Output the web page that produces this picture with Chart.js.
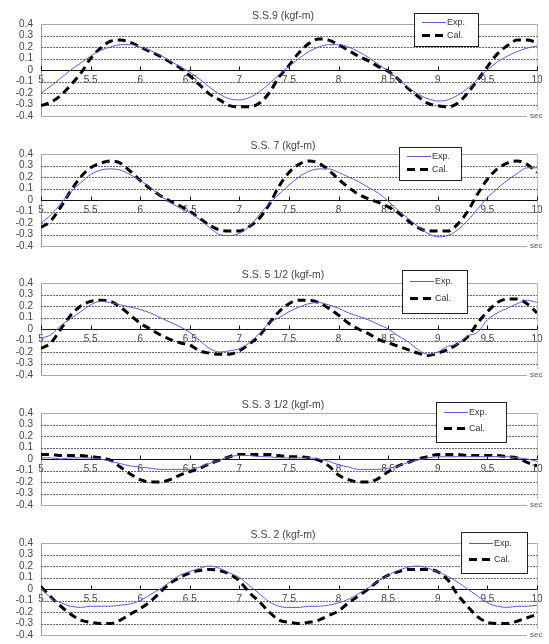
<!DOCTYPE html>
<html>
<head>
<meta charset="utf-8">
<script src="https://cdn.jsdelivr.net/npm/chart.js@4.4.0/dist/chart.umd.min.js"></script>
<style>
html, body { margin: 0; padding: 0; background: #fff; overflow: hidden; }
#wrap { position: relative; width: 549px; height: 644px; }
.panel { position: absolute; left: 0; width: 549px; height: 130px; }
</style>
</head>
<body>
<div id="wrap"></div>
<script>
const times = [5.0, 5.1, 5.2, 5.3, 5.4, 5.5, 5.6, 5.7, 5.8, 5.9,
               6.0, 6.1, 6.2, 6.3, 6.4, 6.5, 6.6, 6.7, 6.8, 6.9,
               7.0, 7.1, 7.2, 7.3, 7.4, 7.5, 7.6, 7.7, 7.8, 7.9,
               8.0, 8.1, 8.2, 8.3, 8.4, 8.5, 8.6, 8.7, 8.8, 8.9,
               9.0, 9.1, 9.2, 9.3, 9.4, 9.5, 9.6, 9.7, 9.8, 9.9, 10.0];

const titles = ['S.S.9 (kgf-m)', 'S.S. 7 (kgf-m)', 'S.S. 5 1/2 (kgf-m)', 'S.S. 3 1/2 (kgf-m)', 'S.S. 2 (kgf-m)'];
const seriesNames = ['Exp.', 'Cal.'];

const xTicks = [5, 5.5, 6, 6.5, 7, 7.5, 8, 8.5, 9, 9.5, 10];
const yTicks = [-0.4, -0.3, -0.2, -0.1, 0, 0.1, 0.2, 0.3, 0.4];

// S.S.9
const exp9 = [-0.20, -0.14, -0.07, 0.00, 0.06, 0.12, 0.17, 0.20, 0.22, 0.22,
              0.20, 0.17, 0.13, 0.08, 0.03, -0.02, -0.08, -0.15, -0.21, -0.25,
              -0.26, -0.24, -0.19, -0.12, -0.04, 0.03, 0.10, 0.16, 0.20, 0.22,
              0.22, 0.20, 0.16, 0.11, 0.05, -0.01, -0.08, -0.15, -0.21, -0.25,
              -0.27, -0.26, -0.22, -0.16, -0.08, 0.00, 0.07, 0.12, 0.16, 0.19, 0.21];
const cal9 = [-0.31, -0.28, -0.22, -0.13, -0.03, 0.10, 0.19, 0.25, 0.26, 0.24,
              0.20, 0.16, 0.12, 0.07, 0.02, -0.05, -0.13, -0.21, -0.26, -0.31,
              -0.32, -0.32, -0.29, -0.20, -0.06, 0.04, 0.15, 0.23, 0.27, 0.26,
              0.22, 0.17, 0.12, 0.08, 0.03, -0.01, -0.08, -0.16, -0.23, -0.29,
              -0.31, -0.32, -0.29, -0.20, -0.09, 0.03, 0.14, 0.21, 0.26, 0.26, 0.24];

// S.S. 7
const exp7 = [-0.20, -0.13, -0.03, 0.07, 0.15, 0.22, 0.26, 0.27, 0.26, 0.22,
              0.17, 0.11, 0.04, -0.02, -0.07, -0.11, -0.17, -0.24, -0.30, -0.31,
              -0.29, -0.23, -0.13, -0.03, 0.05, 0.13, 0.20, 0.25, 0.27, 0.27,
              0.24, 0.20, 0.16, 0.11, 0.06, -0.01, -0.09, -0.16, -0.23, -0.29,
              -0.32, -0.31, -0.26, -0.18, -0.08, 0.02, 0.10, 0.17, 0.23, 0.28, 0.28];
const cal7 = [-0.24, -0.18, -0.06, 0.08, 0.20, 0.28, 0.32, 0.34, 0.32, 0.25,
              0.17, 0.10, 0.04, -0.01, -0.05, -0.10, -0.16, -0.22, -0.26, -0.27,
              -0.27, -0.23, -0.16, -0.04, 0.12, 0.24, 0.31, 0.34, 0.32, 0.26,
              0.18, 0.11, 0.05, 0.01, -0.02, -0.06, -0.11, -0.18, -0.24, -0.27,
              -0.27, -0.27, -0.21, -0.10, 0.05, 0.18, 0.27, 0.32, 0.34, 0.31, 0.24];

// S.S. 5 1/2
const exp5 = [-0.08, -0.05, 0.03, 0.09, 0.15, 0.21, 0.24, 0.23, 0.21, 0.19,
              0.17, 0.14, 0.10, 0.06, 0.02, -0.03, -0.10, -0.17, -0.20, -0.19,
              -0.17, -0.12, -0.04, 0.05, 0.10, 0.15, 0.19, 0.22, 0.23, 0.21,
              0.18, 0.14, 0.11, 0.08, 0.04, 0.00, -0.06, -0.11, -0.18, -0.22,
              -0.20, -0.15, -0.13, -0.06, -0.03, 0.08, 0.14, 0.18, 0.22, 0.25, 0.23];
const cal5 = [-0.17, -0.12, 0.00, 0.12, 0.20, 0.24, 0.25, 0.24, 0.19, 0.12,
              0.05, 0.00, -0.05, -0.09, -0.12, -0.14, -0.19, -0.21, -0.22, -0.22,
              -0.19, -0.13, -0.06, 0.05, 0.15, 0.22, 0.25, 0.25, 0.23, 0.18,
              0.12, 0.05, 0.00, -0.04, -0.09, -0.12, -0.15, -0.18, -0.21, -0.23,
              -0.21, -0.18, -0.13, -0.07, 0.05, 0.15, 0.23, 0.26, 0.26, 0.22, 0.14];

// S.S. 3 1/2
const exp3 = [0.01, 0.01, 0.00, 0.01, 0.01, 0.01, 0.00, -0.02, -0.04, -0.06,
              -0.07, -0.08, -0.09, -0.09, -0.09, -0.09, -0.07, -0.04, -0.01, 0.02,
              0.03, 0.03, 0.02, 0.02, 0.01, 0.01, 0.01, 0.01, 0.00, -0.02,
              -0.05, -0.07, -0.09, -0.09, -0.09, -0.08, -0.06, -0.03, -0.01, 0.01,
              0.02, 0.02, 0.02, 0.02, 0.02, 0.02, 0.02, 0.02, 0.01, 0.00, -0.02];
const cal3 = [0.04, 0.04, 0.03, 0.03, 0.03, 0.02, 0.01, -0.01, -0.07, -0.13,
              -0.18, -0.20, -0.20, -0.18, -0.14, -0.11, -0.08, -0.04, -0.01, 0.02,
              0.04, 0.04, 0.04, 0.04, 0.03, 0.02, 0.02, 0.01, -0.01, -0.06,
              -0.14, -0.18, -0.20, -0.20, -0.17, -0.11, -0.06, -0.03, 0.00, 0.02,
              0.04, 0.04, 0.04, 0.03, 0.03, 0.03, 0.03, 0.02, 0.01, -0.03, -0.06];

// S.S. 2
const exp2 = [0.01, -0.08, -0.12, -0.15, -0.16, -0.15, -0.15, -0.15, -0.14, -0.13,
              -0.10, -0.05, 0.00, 0.06, 0.12, 0.15, 0.18, 0.20, 0.18, 0.14,
              0.10, 0.03, -0.04, -0.11, -0.15, -0.16, -0.16, -0.15, -0.15, -0.14,
              -0.12, -0.09, -0.04, 0.01, 0.07, 0.12, 0.16, 0.19, 0.20, 0.18,
              0.15, 0.11, 0.06, 0.00, -0.06, -0.12, -0.15, -0.16, -0.15, -0.15, -0.14];
const cal2 = [0.02, -0.07, -0.15, -0.22, -0.27, -0.29, -0.30, -0.30, -0.27, -0.22,
              -0.17, -0.11, -0.03, 0.05, 0.10, 0.14, 0.16, 0.17, 0.16, 0.13,
              0.07, -0.03, -0.11, -0.20, -0.27, -0.29, -0.30, -0.29, -0.27, -0.23,
              -0.19, -0.12, -0.06, 0.00, 0.07, 0.12, 0.15, 0.17, 0.17, 0.17,
              0.15, 0.08, -0.05, -0.15, -0.24, -0.29, -0.30, -0.30, -0.28, -0.25, -0.22];

const expSeries = [exp9, exp7, exp5, exp3, exp2];
const calSeries = [cal9, cal7, cal5, cal3, cal2];

// legend box corners inside each canvas: x1, y1, x2, y2
const legendBoxes = [
  [414, 13, 478, 46],
  [399, 17, 461, 50],
  [402, 11, 467, 54],
  [436, 13, 506, 53],
  [461, 13, 527, 54]
];

const FONT = '"Liberation Sans", Arial, sans-serif';
Chart.defaults.font.family = FONT;
Chart.defaults.font.size = 10;
Chart.defaults.color = '#444';

const decor = {
  id: 'decor',
  beforeDatasetsDraw(chart, args, opts) {
    const { ctx, chartArea: a, scales: { x, y } } = chart;
    ctx.save();
    ctx.lineWidth = 1;
    yTicks.forEach(v => {
      const py = Math.round(y.getPixelForValue(v)) + 0.5;
      let right = a.right;
      if (v === 0) {
        ctx.strokeStyle = '#111';
        ctx.setLineDash([]);
      } else if (Math.abs(v) > 0.35) {
        ctx.strokeStyle = '#aaa';
        ctx.setLineDash([]);
        if (v < 0) right = a.right - 10;
      } else {
        ctx.strokeStyle = '#666';
        ctx.setLineDash([2, 1]);
      }
      ctx.beginPath();
      ctx.moveTo(a.left, py);
      ctx.lineTo(right, py);
      ctx.stroke();
    });
    ctx.setLineDash([]);
    // right border of the plot
    ctx.strokeStyle = '#bbb';
    const rx = Math.round(a.right) + 0.5;
    ctx.beginPath();
    ctx.moveTo(rx, a.top);
    ctx.lineTo(rx, a.bottom - 6);
    ctx.stroke();
    // small tick marks above the zero axis
    const zy = Math.round(y.getPixelForValue(0)) + 0.5;
    ctx.strokeStyle = '#111';
    x.ticks.forEach(t => {
      const px = Math.round(x.getPixelForValue(t.value)) + 0.5;
      ctx.beginPath();
      ctx.moveTo(px, zy - 4);
      ctx.lineTo(px, zy);
      ctx.stroke();
    });
    ctx.restore();
  },
  afterDraw(chart, args, opts) {
    const { ctx, chartArea: a } = chart;
    ctx.save();
    // title
    ctx.font = '10.5px ' + FONT;
    ctx.fillStyle = '#444';
    ctx.textAlign = 'center';
    ctx.textBaseline = 'middle';
    ctx.fillText(opts.title, (a.left + a.right) / 2 - 6, 16);

    // legend
    const [x1, y1, x2, y2] = opts.box;
    ctx.fillStyle = '#fff';
    ctx.fillRect(x1, y1, x2 - x1, y2 - y1);
    ctx.strokeStyle = '#222';
    ctx.lineWidth = 1;
    ctx.strokeRect(x1 + 0.5, y1 + 0.5, x2 - x1, y2 - y1);
    const h = y2 - y1;
    const rows = [y1 + h * 0.26, y1 + h * 0.66];
    chart.data.datasets.forEach((ds, i) => {
      const ry = Math.round(rows[i]) + 0.5;
      ctx.strokeStyle = ds.borderColor;
      ctx.lineWidth = ds.borderWidth;
      ctx.setLineDash(ds.borderDash || []);
      ctx.beginPath();
      ctx.moveTo(x1 + 8, ry);
      ctx.lineTo(x1 + 32, ry);
      ctx.stroke();
      ctx.setLineDash([]);
      ctx.font = '9px ' + FONT;
      ctx.fillStyle = '#333';
      ctx.textAlign = 'left';
      ctx.fillText(ds.label, x1 + 33, ry);
    });

    // unit label at the right end of the bottom line
    ctx.font = '8px ' + FONT;
    ctx.fillStyle = '#555';
    ctx.textAlign = 'left';
    ctx.fillText('sec', a.right - 7, a.bottom);
    ctx.restore();
  }
};

const wrap = document.getElementById('wrap');

titles.forEach((title, i) => {
  const div = document.createElement('div');
  div.className = 'panel';
  div.style.top = Math.round(i * 129.7) + 'px';
  const canvas = document.createElement('canvas');
  canvas.width = 549;
  canvas.height = 130;
  div.appendChild(canvas);
  wrap.appendChild(div);

  new Chart(canvas, {
    type: 'line',
    plugins: [decor],
    data: {
      datasets: [
        {
          label: seriesNames[0],
          data: times.map((t, k) => ({ x: t, y: expSeries[i][k] })),
          borderColor: '#5a5ad2',
          borderWidth: 1,
          pointRadius: 0,
          cubicInterpolationMode: 'monotone',
          fill: false
        },
        {
          label: seriesNames[1],
          data: times.map((t, k) => ({ x: t, y: calSeries[i][k] })),
          borderColor: '#000',
          borderWidth: 3,
          borderDash: [8, 5],
          pointRadius: 0,
          cubicInterpolationMode: 'monotone',
          fill: false
        }
      ]
    },
    options: {
      responsive: false,
      animation: false,
      devicePixelRatio: 1,
      layout: {
        padding: { top: 24, bottom: 8, right: 12, left: 0 }
      },
      scales: {
        x: {
          type: 'linear',
          min: 5,
          max: 10,
          position: { y: 0 },
          afterBuildTicks: scale => { scale.ticks = xTicks.map(v => ({ value: v })); },
          ticks: {
            autoSkip: false,
            maxRotation: 0,
            padding: 4,
            color: '#444',
            callback: v => String(v)
          },
          grid: { display: false, drawTicks: false },
          border: { display: false }
        },
        y: {
          min: -0.4,
          max: 0.4,
          afterBuildTicks: scale => { scale.ticks = yTicks.map(v => ({ value: v })); },
          afterFit: scale => { scale.width = 41; },
          ticks: {
            autoSkip: false,
            padding: 8,
            color: '#444',
            callback: v => (v === 0 ? '0' : v.toFixed(1))
          },
          grid: { display: false, drawTicks: false },
          border: { display: true, color: '#999', width: 1 }
        }
      },
      plugins: {
        legend: { display: false },
        tooltip: { enabled: false },
        decor: { title: title, box: legendBoxes[i] }
      }
    }
  });
});
</script>
</body>
</html>
